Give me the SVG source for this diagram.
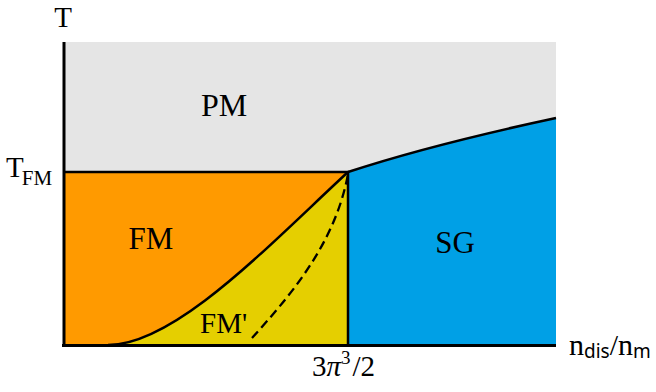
<svg xmlns="http://www.w3.org/2000/svg" width="656" height="392" viewBox="0 0 656 392">
<style>
.lbl{font-family:"Liberation Serif","Times New Roman",serif;fill:#000}
.sans{font-family:"Noto Sans","DejaVu Sans",sans-serif}
.bd{fill:none;stroke:#000;stroke-width:2.5}
.ax{fill:none;stroke:#000;stroke-width:3}
</style>
<rect width="656" height="392" fill="#fff"/>
<g id="regions">
<rect id="pm" x="64" y="42" width="492" height="303" fill="#e5e5e5"/>
<path id="fm" d="M64,172 L348,172 C268,246 175,345 108,345 L64,345 Z" fill="#ff9a00"/>
<path id="fmp" d="M108,345 C175,345 268,246 348,172 L348,345 Z" fill="#e5cf00"/>
<path id="sg" d="M348,172 Q430,145 556,118 L556,345 L348,345 Z" fill="#00a0e6"/>
</g>
<g id="boundaries">
<path class="bd" d="M64,172 H349"/>
<path class="bd" d="M108,345 C175,345 268,246 348,172"/>
<path class="bd" d="M348,172 Q430,145 556,118"/>
<path class="bd" d="M348,171 V345"/>
<path d="M252,338 C288,298 335,245 348,174" fill="none" stroke="#000" stroke-width="2.3" stroke-dasharray="9,5"/>
</g>
<g id="axes">
<path class="ax" d="M64,42 V347"/>
<path class="ax" d="M62,345.5 H556"/>
</g>
<g id="labels">
<text class="lbl" x="63" y="27" font-size="29" text-anchor="middle">T</text>
<text class="lbl" x="6" y="177" font-size="29">T<tspan font-size="21" dx="-2" dy="8">FM</tspan></text>
<text class="lbl" x="224" y="116" font-size="32" text-anchor="middle">PM</text>
<text class="lbl" x="151" y="249" font-size="31" text-anchor="middle">FM</text>
<text class="lbl" x="455" y="253" font-size="31" text-anchor="middle">SG</text>
<text class="lbl" x="200" y="333" font-size="29">FM'</text>
<text class="lbl" x="312" y="376" font-size="29">3<tspan font-style="italic">π</tspan><tspan font-size="19" dy="-12">3</tspan><tspan dx="2" dy="12">/2</tspan></text>
<text class="lbl" x="569" y="355" font-size="30">n<tspan class="sans" font-size="19" dy="3">dis</tspan><tspan dy="-3">/n</tspan><tspan class="sans" font-size="19" dy="3">m</tspan></text>
</g>
</svg>
